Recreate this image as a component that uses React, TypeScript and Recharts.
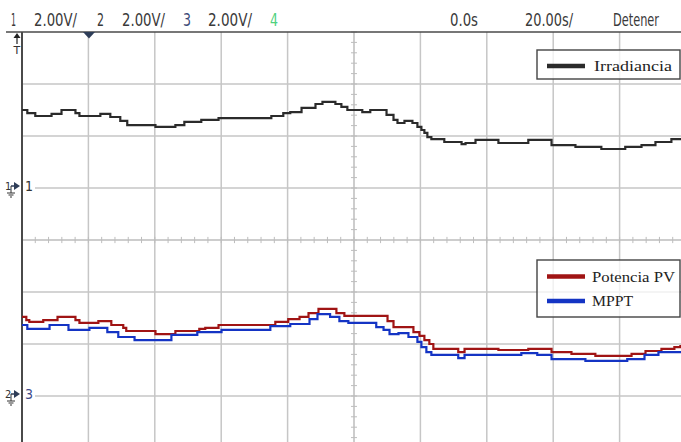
import React from "react";
import { LineChart, Line, XAxis, YAxis, ReferenceLine } from "recharts";

// Time base: 20 s/div, 10 divisions; vertical: 2 V/div, 8 divisions.
const T_MIN = -20;
const T_MAX = 180;
const V_MIN = -8;
const V_MAX = 8;
const T_DIV = 20;
const V_DIV = 2;

// Channel ground offsets (volts on the screen scale)
const CH1_GROUND = 2;
const CH23_GROUND = -6;

// Channel 1 — Irradiancia
const IRR_T = [
  -20.0, -18.4, -16.0, -11.1, -8.1, -3.9, -2.7, 3.6, 6.6, 9.6, 11.7, 20.2, 26.2,
  28.9, 34.0, 39.2, 55.1, 58.7, 60.8, 64.2, 68.4, 70.5, 74.4, 76.2, 78.0, 82.5,
  84.9, 89.8, 91.9, 93.1, 95.2, 97.6, 99.1, 100.3, 101.2, 102.1, 103.3, 107.2,
  112.4, 113.6, 116.6, 123.5, 132.5, 139.5, 146.7, 154.5, 161.7, 166.6, 170.8,
  175.6, 180.0,
];
const IRR_V = [
  3.0, 2.88, 2.77, 2.85, 3.0, 2.88, 2.77, 2.85, 2.73, 2.58, 2.42, 2.35, 2.42,
  2.54, 2.62, 2.69, 2.77, 2.88, 2.92, 3.08, 3.23, 3.31, 3.23, 3.12, 3.0, 2.92,
  3.0, 2.81, 2.62, 2.5, 2.58, 2.5, 2.35, 2.23, 2.12, 1.96, 1.88, 1.77, 1.69,
  1.73, 1.85, 1.73, 1.85, 1.65, 1.58, 1.5, 1.58, 1.65, 1.77, 1.88, 1.88,
];

// Channel 2 — Potencia PV
const PV_T = [
  -20.0, -18.7, -17.8, -13.6, -9.3, -3.9, -2.7, 3.0, 6.9, 10.5, 11.4, 20.2,
  26.2, 33.4, 35.2, 39.2, 56.3, 60.2, 63.6, 66.3, 69.3, 74.7, 77.1, 90.1, 91.9,
  97.9, 99.7, 101.2, 102.7, 103.9, 111.4, 113.3, 123.5, 132.5, 139.5, 145.5,
  152.7, 163.6, 167.8, 172.6, 176.5, 178.3, 180.0,
];
const PV_V = [
  3.04, 2.92, 2.85, 2.92, 3.04, 2.92, 2.81, 2.88, 2.73, 2.62, 2.5, 2.38, 2.5,
  2.58, 2.62, 2.73, 2.85, 2.96, 3.04, 3.19, 3.35, 3.19, 3.08, 2.88, 2.65, 2.46,
  2.31, 2.15, 2.0, 1.81, 1.69, 1.81, 1.77, 1.81, 1.69, 1.62, 1.54, 1.62, 1.73,
  1.81, 1.88, 1.92, 1.92,
];

// Channel 3 — MPPT
const MPPT_T = [
  -20.0, -18.4, -11.7, -6.0, 0.3, 5.7, 9.0, 13.9, 25.0, 32.8, 40.1, 54.8, 60.8,
  66.6, 69.0, 72.8, 75.6, 78.3, 86.7, 88.9, 90.7, 93.4, 96.4, 99.1, 100.3,
  101.8, 103.3, 111.4, 113.3, 130.4, 135.2, 139.5, 149.7, 162.3, 167.5, 171.7,
  180.0,
];
const MPPT_V = [
  2.73, 2.58, 2.73, 2.54, 2.62, 2.46, 2.27, 2.15, 2.35, 2.46, 2.54, 2.69, 2.77,
  2.96, 3.15, 3.04, 2.88, 2.81, 2.65, 2.54, 2.38, 2.42, 2.27, 2.08, 1.88, 1.69,
  1.58, 1.46, 1.58, 1.65, 1.58, 1.42, 1.35, 1.42, 1.58, 1.69, 1.73,
];

const SERIES = [
  { name: "Irradiancia", color: "#2b2b2b", t: IRR_T, v: IRR_V, ground: CH1_GROUND },
  { name: "Potencia PV", color: "#a01414", t: PV_T, v: PV_V, ground: CH23_GROUND },
  { name: "MPPT", color: "#1434c4", t: MPPT_T, v: MPPT_V, ground: CH23_GROUND },
];

const GRID_X = [0, 20, 40, 60, 100, 120, 140, 160];
const GRID_Y = [-6, -4, -2, 2, 4, 6];
const CENTER_T = 80;
const CENTER_V = 0;

const HEADER = [
  { text: "1", x: 11, w: 5, color: "#3a3a3a" },
  { text: "2.00V/", x: 34, w: 43, color: "#3a3a3a" },
  { text: "2", x: 97, w: 7, color: "#3a3a3a" },
  { text: "2.00V/", x: 122, w: 43, color: "#3a3a3a" },
  { text: "3", x: 183, w: 8, color: "#3d4a78" },
  { text: "2.00V/", x: 208, w: 44, color: "#3a3a3a" },
  { text: "4", x: 270, w: 8, color: "#4fd17f" },
  { text: "0.0s", x: 450, w: 28, color: "#3a3a3a" },
  { text: "20.00s/", x: 525, w: 48, color: "#3a3a3a" },
  { text: "Detener", x: 613, w: 46, color: "#3a3a3a" },
];

const W = 700;
const H = 460;
const MARGIN = { top: 32, left: 22, right: 14, bottom: 12 };

const minorX: number[] = [];
for (let t = T_MIN; t <= T_MAX + 1e-6; t += T_DIV / 5) minorX.push(+t.toFixed(2));
const minorY: number[] = [];
for (let v = V_MIN; v <= V_MAX + 1e-6; v += V_DIV / 5) minorY.push(+v.toFixed(2));

const TICK_T = 0.9; // half tick length in seconds
const TICK_V = 0.12; // half tick length in volts

function ChannelMarker({ y, small, big, bigColor }: { y: number; small: string; big: string; bigColor: string }) {
  return (
    <g>
      <rect x={2} y={y - 9} width={19} height={20} fill="#fff" />
      <rect x={23} y={y - 8} width={12} height={16} fill="#fff" />
      <text x={5} y={y + 4} fontSize={11} fill="#333" fontFamily="'DejaVu Sans Condensed','DejaVu Sans',sans-serif">
        {small}
      </text>
      <line x1={11} y1={y} x2={15} y2={y} stroke="#2e3d58" strokeWidth={1.5} />
      <polygon points={`${14},${y - 4} ${20},${y} ${14},${y + 4}`} fill="#2e3d58" />
      <line x1={11} y1={y} x2={11} y2={y + 7} stroke="#333" strokeWidth={1} />
      <line x1={7} y1={y + 7} x2={15} y2={y + 7} stroke="#333" strokeWidth={1} />
      <line x1={8.5} y1={y + 9} x2={13.5} y2={y + 9} stroke="#333" strokeWidth={1} />
      <line x1={10} y1={y + 11} x2={12} y2={y + 11} stroke="#333" strokeWidth={1} />
      <text x={25} y={y + 5} fontSize={14} fill={bigColor} fontFamily="'DejaVu Sans Condensed','DejaVu Sans',sans-serif">
        {big}
      </text>
    </g>
  );
}

export default function App() {
  const seriesData = SERIES.map((s) => s.t.map((t, i) => ({ t, v: s.v[i] })));
  return (
    <div
      style={{
        position: "fixed",
        left: 0,
        top: 0,
        width: 681,
        height: 442,
        overflow: "hidden",
        background: "#fff",
      }}
    >
      <LineChart width={W} height={H} margin={MARGIN}>
        <XAxis dataKey="t" type="number" domain={[T_MIN, T_MAX]} hide allowDataOverflow />
        <YAxis type="number" domain={[V_MIN, V_MAX]} hide allowDataOverflow />
        {GRID_X.map((t) => (
          <ReferenceLine key={`gx${t}`} x={t} stroke="#c6c6c6" strokeWidth={1.5} />
        ))}
        {GRID_Y.map((v) => (
          <ReferenceLine key={`gy${v}`} y={v} stroke="#c6c6c6" strokeWidth={1.5} />
        ))}
        <ReferenceLine x={CENTER_T} stroke="#bdbdbd" strokeWidth={1.5} />
        <ReferenceLine y={CENTER_V} stroke="#bdbdbd" strokeWidth={1.5} />
        {minorX.map((t) => (
          <ReferenceLine
            key={`mx${t}`}
            segment={[
              { x: t, y: CENTER_V - TICK_V },
              { x: t, y: CENTER_V + TICK_V },
            ]}
            stroke="#bdbdbd"
            strokeWidth={1}
          />
        ))}
        {minorY.map((v) => (
          <ReferenceLine
            key={`my${v}`}
            segment={[
              { x: CENTER_T - TICK_T, y: v },
              { x: CENTER_T + TICK_T, y: v },
            ]}
            stroke="#bdbdbd"
            strokeWidth={1}
          />
        ))}
        <ReferenceLine x={T_MIN} stroke="#4a4a4a" strokeWidth={2} />
        {SERIES.map((s, i) => (
          <Line
            key={s.name}
            name={s.name}
            data={seriesData[i]}
            dataKey={(d: { v: number }) => s.ground + d.v}
            type="stepAfter"
            stroke={s.color}
            strokeWidth={2.2}
            dot={false}
            activeDot={false}
            isAnimationActive={false}
          />
        ))}
      </LineChart>

      <svg
        width={681}
        height={442}
        style={{ position: "absolute", left: 0, top: 0, pointerEvents: "none" }}
      >
        {/* status bar */}
        {HEADER.map((h, i) => (
          <text
            key={i}
            x={h.x}
            y={26}
            fontSize={17}
            fill={h.color}
            textLength={h.w}
            lengthAdjust="spacingAndGlyphs"
            fontFamily="'DejaVu Sans Condensed','DejaVu Sans',sans-serif"
          >
            {h.text}
          </text>
        ))}
        <line x1={6} y1={32} x2={681} y2={32} stroke="#4a4a4a" strokeWidth={1.6} />

        {/* trigger position and level markers */}
        <polygon points="83,32 95,32 89,38.5" fill="#2e3d58" />
        <polygon points="13.5,38 20.5,38 17,33" fill="#222" />
        <line x1={17} y1={37} x2={17} y2={44} stroke="#222" strokeWidth={1.2} />
        <text x={13.5} y={54} fontSize={11} fill="#333" fontFamily="'DejaVu Sans',sans-serif">
          T
        </text>

        <ChannelMarker y={186} small="1" big="1" bigColor="#333" />
        <ChannelMarker y={394} small="2" big="3" bigColor="#3d4a8a" />

        {/* legends */}
        <rect x={537} y={50} width={143} height={29} fill="#fff" fillOpacity={0.75} stroke="#444" strokeWidth={1.4} />
        <line x1={547} y1={66} x2={585} y2={66} stroke={SERIES[0].color} strokeWidth={4.5} />
        <text
          x={594}
          y={70.5}
          fontSize={15.5}
          fill="#222"
          textLength={78}
          lengthAdjust="spacingAndGlyphs"
          fontFamily="'Liberation Serif','DejaVu Serif',serif"
        >
          {SERIES[0].name}
        </text>

        <rect x={537} y={260} width={143} height={57} fill="#fff" fillOpacity={0.75} stroke="#444" strokeWidth={1.4} />
        <line x1={547} y1={276.5} x2={585} y2={276.5} stroke={SERIES[1].color} strokeWidth={4.5} />
        <text
          x={592}
          y={282}
          fontSize={15.5}
          fill="#222"
          textLength={83}
          lengthAdjust="spacingAndGlyphs"
          fontFamily="'Liberation Serif','DejaVu Serif',serif"
        >
          {SERIES[1].name}
        </text>
        <line x1={547} y1={301} x2={585} y2={301} stroke={SERIES[2].color} strokeWidth={4.5} />
        <text
          x={592}
          y={306}
          fontSize={15.5}
          fill="#222"
          textLength={41}
          lengthAdjust="spacingAndGlyphs"
          fontFamily="'Liberation Serif','DejaVu Serif',serif"
        >
          {SERIES[2].name}
        </text>
      </svg>
    </div>
  );
}
